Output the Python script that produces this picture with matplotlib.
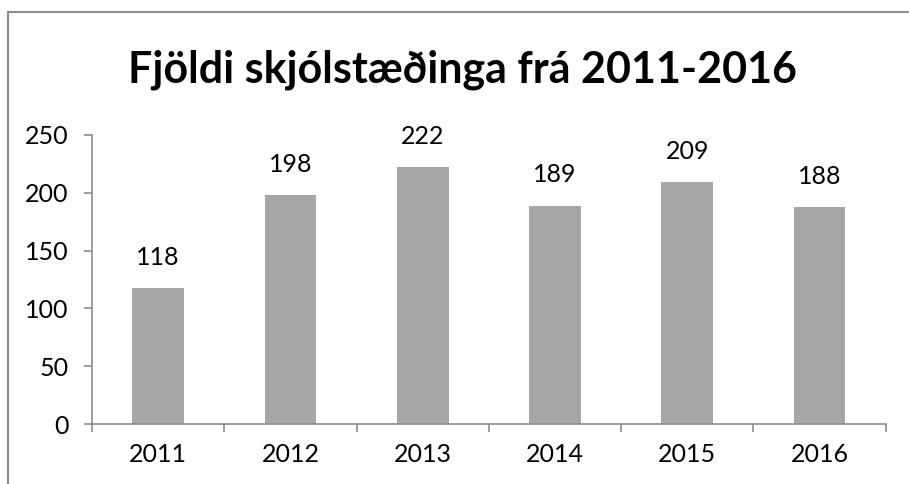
import matplotlib
matplotlib.use("Agg")
import matplotlib.pyplot as plt
from matplotlib.patches import Rectangle
import numpy as np

years = ["2011", "2012", "2013", "2014", "2015", "2016"]
values = [118, 198, 222, 189, 209, 188]
title = "Fjöldi skjólstæðinga frá 2011-2016"
yticks = [0, 50, 100, 150, 200, 250]

plt.rcParams['font.family'] = ['Lato', 'DejaVu Sans']

W, H = 909, 484
fig = plt.figure(figsize=(W/100, H/100), dpi=100)
ax = fig.add_axes([92/W, (H-424)/H, (885.7-92)/W, (424-135)/H])

x = np.arange(len(years))
bars = ax.bar(x, values, width=0.39, color="#A6A6A6", zorder=2)
for xi, v in zip(x, values):
    ax.annotate(str(v), (xi, v), xytext=(0, 22), textcoords="offset points",
                ha="center", va="center", fontsize=18, color="black")

ax.set_xlim(-0.5, len(years) - 0.5)
ax.set_ylim(0, 250)
ax.set_yticks(yticks)
ax.set_xticks(x)
ax.set_xticklabels(years)
ax.set_xticks(np.arange(len(years) + 1) - 0.5, minor=True)
ax.tick_params(axis="x", which="major", length=0, pad=14, labelsize=18)
ax.tick_params(axis="x", which="minor", length=6, width=1.2, color="#8C8C8C", direction="out")
ax.tick_params(axis="y", length=6, width=1.2, color="#8C8C8C", pad=11, labelsize=18)

for s in ["top", "right"]:
    ax.spines[s].set_visible(False)
for s in ["left", "bottom"]:
    ax.spines[s].set_color("#8C8C8C")
    ax.spines[s].set_linewidth(1.2)

fig.text(462/W, 1 - 70/H, title, ha="center", va="center", fontsize=31, fontweight="bold")

fig.patches.append(Rectangle((8/W, -0.1), 1.2, 1 - 12/H + 0.1, transform=fig.transFigure,
                             fill=False, edgecolor="#8C8C8C", linewidth=1.5))

fig.savefig("out.png", dpi=100)
